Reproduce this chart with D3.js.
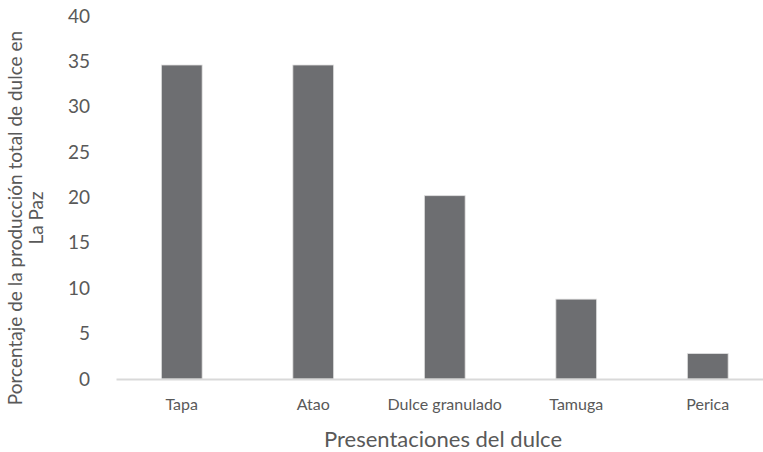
<!DOCTYPE html>
<html>
<head>
<meta charset="utf-8">
<script src="https://cdn.jsdelivr.net/npm/d3@7"></script>
<style>
  body { margin: 0; background: #fff; }
  text { font-family: Lato, "Open Sans", sans-serif; fill: #595959; }
</style>
</head>
<body>
<div id="chart"></div>
<script>
const categories = ["Tapa", "Atao", "Dulce granulado", "Tamuga", "Perica"];
const values = [34.6, 34.6, 20.2, 8.8, 2.8];
const yTicks = [0, 5, 10, 15, 20, 25, 30, 35, 40];

const w = 763, h = 452;
const padLeft = 116, plotBottom = 379, plotTop = 16;

const svg = d3.select("#chart").append("svg")
  .attr("width", w)
  .attr("height", h);

const x = d3.scaleBand()
  .domain(categories)
  .range([padLeft, padLeft + 131.5 * categories.length])
  .paddingInner(0.69)
  .paddingOuter(0.345);

const y = d3.scaleLinear()
  .domain([0, 40])
  .range([plotBottom, plotTop]);

// y axis labels only (no line)
const yAxis = svg.append("g")
  .attr("transform", `translate(${padLeft}, 0)`)
  .call(d3.axisLeft(y).tickValues(yTicks).tickSize(0).tickPadding(26));
yAxis.select(".domain").remove();
yAxis.selectAll("text")
  .attr("font-family", "Lato, sans-serif")
  .attr("font-size", "19px")
  .attr("fill", "#595959");

svg.selectAll("rect.bar")
  .data(values)
  .enter()
  .append("rect")
  .attr("class", "bar")
  .attr("x", (d, i) => x(categories[i]))
  .attr("y", d => y(d))
  .attr("width", x.bandwidth())
  .attr("height", d => plotBottom - y(d))
  .attr("fill", "#6d6e71")
  .attr("stroke", "#e0e0e0")
  .attr("stroke-width", 0.8);

const xAxis = svg.append("g")
  .attr("transform", `translate(0, ${plotBottom})`)
  .call(d3.axisBottom(x).tickSize(0).tickPadding(20));
xAxis.select(".domain")
  .attr("stroke", "#d9d9d9")
  .attr("stroke-width", 2);
xAxis.selectAll("text")
  .attr("font-family", "Lato, sans-serif")
  .attr("font-size", "16px")
  .attr("fill", "#595959");

svg.append("text")
  .attr("x", 443)
  .attr("y", 447)
  .attr("text-anchor", "middle")
  .attr("font-size", "22px")
  .text("Presentaciones del dulce");

const yTitle = svg.append("text")
  .attr("transform", "translate(22, 218) rotate(-90)")
  .attr("text-anchor", "middle")
  .attr("font-size", "19px");
yTitle.append("tspan").attr("x", 0).attr("dy", 0)
  .text("Porcentaje de la producción total de dulce en");
yTitle.append("tspan").attr("x", 0).attr("dy", 21)
  .text("La Paz");
</script>
</body>
</html>
